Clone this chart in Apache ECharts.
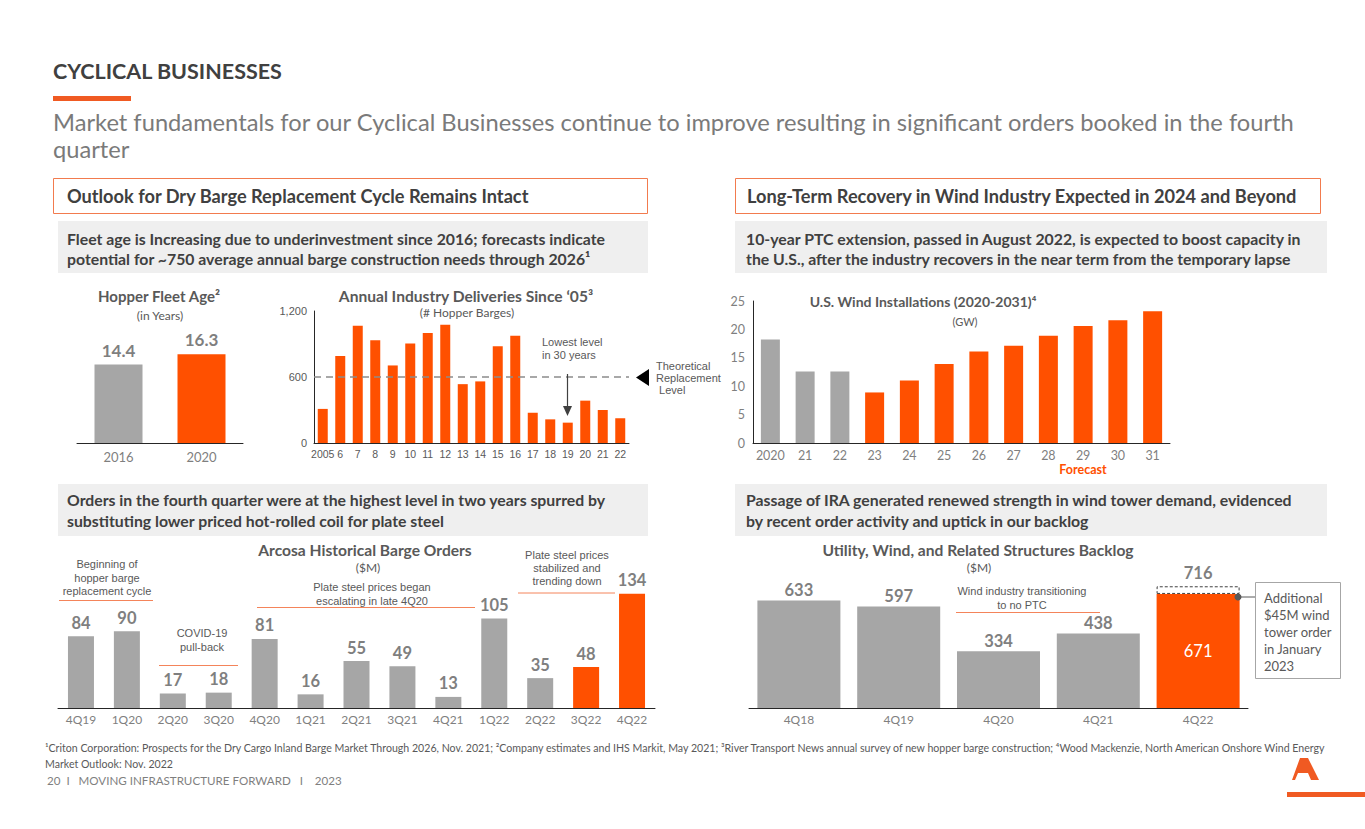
<!DOCTYPE html>
<html>
<head>
<meta charset="utf-8">
<script src="https://cdn.jsdelivr.net/npm/echarts@6/dist/echarts.min.js"></script>
<style>
html,body{margin:0;padding:0;background:#fff;}
#c{width:1365px;height:829px;}
</style>
</head>
<body>
<div id="c"></div>
<script>
// ---------- DATA ----------
const fleetYears = ['2016', '2020'];
const fleetAge = [14.4, 16.3];

const deliveryYears = ['2005', '6', '7', '8', '9', '10', '11', '12', '13', '14', '15', '16', '17', '18', '19', '20', '21', '22'];
const deliveries = [310, 790, 1065, 935, 705, 905, 1000, 1075, 535, 560, 880, 975, 275, 215, 185, 385, 300, 225];
const deliveryAxis = [0, 600, 1200];
const replacementLevel = 600;

const windYears = ['2020', '21', '22', '23', '24', '25', '26', '27', '28', '29', '30', '31'];
const windGW = [18.2, 12.6, 12.6, 8.9, 11.0, 13.9, 16.1, 17.1, 18.9, 20.6, 21.6, 23.2];
const windAxis = [0, 5, 10, 15, 20, 25];
const windFirstForecast = '23';

const orderQuarters = ['4Q19', '1Q20', '2Q20', '3Q20', '4Q20', '1Q21', '2Q21', '3Q21', '4Q21', '1Q22', '2Q22', '3Q22', '4Q22'];
const bargeOrders = [84, 90, 17, 18, 81, 16, 55, 49, 13, 105, 35, 48, 134];
const recentOrderQuarters = ['3Q22', '4Q22'];

const backlogQuarters = ['4Q18', '4Q19', '4Q20', '4Q21', '4Q22'];
const backlog = [633, 597, 334, 438, 671];
const januaryOrder = [0, 0, 0, 0, 45];

// ---------- STYLE ----------
const ORANGE = '#FF5000';
const GRAY = '#A6A6A6';
const DARK = '#404040';
const MID = '#7F7F7F';
const TXT = '#595959';
const CAL = 'Lato, "Open Sans", sans-serif';
const ARI = '"Liberation Sans", Arial, sans-serif';

function T(text, x, y, font, fill, align) {
  return {
    type: 'text', silent: true, z: 10,
    style: { text: text, x: x, y: y, font: font, fill: fill || DARK,
      align: align || 'left', verticalAlign: 'middle',
      textAlign: align || 'left', textVerticalAlign: 'middle' }
  };
}
function L(x1, y1, x2, y2, color, w, dash) {
  return { type: 'line', silent: true, z: 10,
    shape: { x1: x1, y1: y1, x2: x2, y2: y2 },
    style: { stroke: color, lineWidth: w || 1, lineDash: dash || null } };
}
function R(x, y, w, h, fill, stroke, lw) {
  return { type: 'rect', silent: true, z: 1,
    shape: { x: x, y: y, width: w, height: h },
    style: { fill: fill || 'none', stroke: stroke || null, lineWidth: lw || 1 } };
}

const HEAD = 'bold 18.2px ' + CAL;
const BOX = 'bold 15.8px ' + CAL;
const CT = 'bold 15.6px ' + CAL;

const graphics = [
  T('CYCLICAL BUSINESSES', 53, 71, 'bold 21.5px ' + CAL, DARK),
  R(53, 96, 78, 5, '#F05A22'),
  T('Market fundamentals for our Cyclical Businesses continue to improve resulting in significant orders booked in the fourth', 53, 122, '23.7px ' + CAL, '#7A7A7A'),
  T('quarter', 53, 149, '23.7px ' + CAL, '#7A7A7A'),

  R(53.5, 178.5, 594, 35, '#fff', '#F27B4E', 1),
  T('Outlook for Dry Barge Replacement Cycle Remains Intact', 67, 196, HEAD, DARK),
  R(735.5, 178.5, 585, 35, '#fff', '#F27B4E', 1),
  T('Long-Term Recovery in Wind Industry Expected in 2024 and Beyond', 747, 196, HEAD, DARK),

  R(58, 221, 590, 52, '#EFEFEF'),
  T('Fleet age is Increasing due to underinvestment since 2016; forecasts indicate', 67, 238, BOX, DARK),
  T('potential for ~750 average annual barge construction needs through 2026¹', 67, 258, BOX, DARK),
  R(735, 221, 592, 52, '#EFEFEF'),
  T('10-year PTC extension, passed in August 2022, is expected to boost capacity in', 746, 238, BOX, DARK),
  T('the U.S., after the industry recovers in the near term from the temporary lapse', 746, 258, BOX, DARK),

  R(58, 484, 590, 52, '#EFEFEF'),
  T('Orders in the fourth quarter were at the highest level in two years spurred by', 67, 499, BOX, DARK),
  T('substituting lower priced hot-rolled coil for plate steel', 67, 520, BOX, DARK),
  R(735, 484, 592, 52, '#EFEFEF'),
  T('Passage of IRA generated renewed strength in wind tower demand, evidenced', 746, 499, BOX, DARK),
  T('by recent order activity and uptick in our backlog', 746, 520, BOX, DARK),

  // Hopper fleet age
  T('Hopper Fleet Age²', 159, 296, 'bold 15px ' + CAL, TXT, 'center'),
  T('(in Years)', 160, 315, '12px ' + CAL, TXT, 'center'),

  // Annual deliveries
  T('Annual Industry Deliveries Since ‘05³', 466, 296, CT, TXT, 'center'),
  T('(# Hopper Barges)', 467, 312, '12px ' + CAL, TXT, 'center'),
  T('Lowest level', 542, 342, '11px ' + ARI, TXT),
  T('in 30 years', 542, 355, '11px ' + ARI, TXT),
  L(567.5, 374, 567.5, 408, DARK, 1.2),
  { type: 'polygon', silent: true, z: 10, shape: { points: [[563, 406], [572, 406], [567.5, 416]] }, style: { fill: DARK } },
  { type: 'polygon', silent: true, z: 10, shape: { points: [[649, 369], [649, 386], [636, 377.5]] }, style: { fill: '#000' } },
  T('Theoretical', 656, 366, '11px ' + ARI, TXT),
  T('Replacement', 656, 378, '11px ' + ARI, TXT),
  T(' Level', 656, 390, '11px ' + ARI, TXT),

  // Wind installs
  T('U.S. Wind Installations (2020-2031)⁴', 923, 301, 'bold 14px ' + CAL, TXT, 'center'),
  T('(GW)', 965, 321, '11px ' + CAL, TXT, 'center'),
  T('Forecast', 1083, 469, 'bold 12.5px ' + CAL, ORANGE, 'center'),

  // Barge orders
  T('Arcosa Historical Barge Orders', 365, 550, CT, TXT, 'center'),
  T('($M)', 368, 567, '12px ' + CAL, TXT, 'center'),
  T('Beginning of', 107, 564, '11px ' + ARI, TXT, 'center'),
  T('hopper barge', 107, 578, '11px ' + ARI, TXT, 'center'),
  T('replacement cycle', 107, 591, '11px ' + ARI, TXT, 'center'),
  L(59, 600.5, 153, 600.5, '#F4845A', 1),
  T('COVID-19', 202, 633, '11px ' + ARI, TXT, 'center'),
  T('pull-back', 202, 647, '11px ' + ARI, TXT, 'center'),
  L(159, 665.5, 238, 665.5, '#F4845A', 1),
  T('Plate steel prices began', 372, 587, '11px ' + ARI, TXT, 'center'),
  T('escalating in late 4Q20', 372, 601, '11px ' + ARI, TXT, 'center'),
  L(257, 607.5, 475, 607.5, '#F4845A', 1),
  T('Plate steel prices', 567, 555, '11px ' + ARI, TXT, 'center'),
  T('stabilized and', 567, 568, '11px ' + ARI, TXT, 'center'),
  T('trending down', 567, 581, '11px ' + ARI, TXT, 'center'),
  L(518, 593, 615, 593, '#F4845A', 1),

  // Backlog
  T('Utility, Wind, and Related Structures Backlog', 978, 550, CT, TXT, 'center'),
  T('($M)', 979, 567, '12px ' + CAL, TXT, 'center'),
  T('Wind industry transitioning', 1022, 591, '11px ' + ARI, TXT, 'center'),
  T('to no PTC', 1022, 605, '11px ' + ARI, TXT, 'center'),
  L(956, 612.5, 1100, 612.5, '#F4845A', 1),
  { type: 'circle', silent: true, z: 10, shape: { cx: 1238, cy: 597, r: 3.5 }, style: { fill: TXT } },
  L(1238, 597, 1255, 597, TXT, 1),
  R(1255.5, 582.5, 85, 96, '#fff', '#A6A6A6', 1),
  T('Additional', 1264, 598, '13px ' + CAL, TXT),
  T('$45M wind', 1264, 615, '13px ' + CAL, TXT),
  T('tower order', 1264, 632, '13px ' + CAL, TXT),
  T('in January', 1264, 649, '13px ' + CAL, TXT),
  T('2023', 1264, 666, '13px ' + CAL, TXT),

  // Footer
  T('¹Criton Corporation: Prospects for the Dry Cargo Inland Barge Market Through 2026, Nov. 2021; ²Company estimates and IHS Markit, May 2021; ³River Transport News annual survey of new hopper barge construction; ⁴Wood Mackenzie, North American Onshore Wind Energy', 45, 748, '10.6px ' + CAL, TXT),
  T('Market Outlook: Nov. 2022', 45, 764, '10.6px ' + CAL, TXT),
  T('20  I   MOVING INFRASTRUCTURE FORWARD   I    2023', 47, 780, '11.6px ' + CAL, MID),
  { type: 'polygon', silent: true, z: 10, shape: { points: [[1300, 758], [1308, 758], [1319, 780], [1311, 780], [1308, 773], [1298, 773], [1295, 780], [1292, 780]] }, style: { fill: '#F05A22' } },
  R(1287, 792, 78, 5, '#F05A22')
];

const valueLabel = { show: true, position: 'top', fontSize: 16.5, fontWeight: 'bold', color: MID, fontFamily: CAL };
const catLabel = { color: MID, fontSize: 12, fontFamily: CAL, margin: 5 };
const darkAxisLine = { show: true, lineStyle: { color: '#262626', width: 1 } };

const option = {
  animation: false,
  backgroundColor: '#fff',
  graphic: { elements: graphics },
  grid: [
    { left: 77, top: 334, width: 166, height: 109 },
    { left: 314, top: 311, width: 315, height: 132 },
    { left: 753, top: 301, width: 417, height: 142 },
    { left: 58, top: 580, width: 597, height: 128 },
    { left: 749, top: 572, width: 499, height: 136 }
  ],
  xAxis: [
    { gridIndex: 0, type: 'category', data: fleetYears, axisTick: { show: false }, axisLine: darkAxisLine, axisLabel: Object.assign({}, catLabel, { fontSize: 13, margin: 7 }) },
    { gridIndex: 1, type: 'category', data: deliveryYears, axisTick: { show: false }, axisLine: darkAxisLine, axisLabel: { color: TXT, fontSize: 10.5, fontFamily: ARI, margin: 5, interval: 0 } },
    { gridIndex: 2, type: 'category', data: windYears, axisTick: { show: false }, axisLine: darkAxisLine, axisLabel: Object.assign({}, catLabel, { fontSize: 12.5, margin: 6, interval: 0 }) },
    { gridIndex: 3, type: 'category', data: orderQuarters, axisTick: { show: false }, axisLine: darkAxisLine, axisLabel: Object.assign({}, catLabel, { interval: 0 }) },
    { gridIndex: 4, type: 'category', data: backlogQuarters, axisTick: { show: false }, axisLine: darkAxisLine, axisLabel: Object.assign({}, catLabel, { interval: 0 }) }
  ],
  yAxis: [
    { gridIndex: 0, type: 'value', min: 0, max: 20, show: false },
    { gridIndex: 1, type: 'value', min: deliveryAxis[0], max: deliveryAxis[2], interval: deliveryAxis[1] - deliveryAxis[0],
      axisLine: darkAxisLine, axisTick: { show: false }, splitLine: { show: false },
      axisLabel: { color: TXT, fontSize: 11, fontFamily: ARI, margin: 7, formatter: v => v.toLocaleString('en-US') } },
    { gridIndex: 2, type: 'value', min: windAxis[0], max: windAxis[windAxis.length - 1], interval: windAxis[1] - windAxis[0],
      axisLine: darkAxisLine, axisTick: { show: false }, splitLine: { show: false },
      axisLabel: { color: MID, fontSize: 12.5, fontFamily: CAL, margin: 8 } },
    { gridIndex: 3, type: 'value', min: 0, max: 150, show: false },
    { gridIndex: 4, type: 'value', min: 0, max: 800, show: false }
  ],
  series: [
    { type: 'bar', xAxisIndex: 0, yAxisIndex: 0, data: fleetAge, barWidth: 48,
      itemStyle: { color: p => p.dataIndex === fleetAge.length - 1 ? ORANGE : GRAY },
      label: Object.assign({}, valueLabel, { distance: 6, fontSize: 17 }) },
    { type: 'bar', xAxisIndex: 1, yAxisIndex: 1, data: deliveries, barWidth: 10,
      itemStyle: { color: ORANGE },
      markLine: { silent: true, symbol: 'none', label: { show: false },
        lineStyle: { color: '#8C8C8C', type: [7, 5], width: 1.5 },
        data: [{ yAxis: replacementLevel }] } },
    { type: 'bar', xAxisIndex: 2, yAxisIndex: 2, data: windGW, barWidth: 19,
      itemStyle: { color: p => windYears.indexOf(p.name) >= windYears.indexOf(windFirstForecast) ? ORANGE : GRAY } },
    { type: 'bar', xAxisIndex: 3, yAxisIndex: 3, data: bargeOrders, barWidth: 26,
      itemStyle: { color: p => recentOrderQuarters.indexOf(p.name) >= 0 ? ORANGE : GRAY },
      label: Object.assign({}, valueLabel, { distance: 5 }) },
    { type: 'bar', xAxisIndex: 4, yAxisIndex: 4, stack: 'b', barWidth: 83,
      data: backlog.map((v, i) => i === backlog.length - 1
        ? { value: v, itemStyle: { color: ORANGE }, label: { show: true, position: 'inside', color: '#fff', fontSize: 16.5, fontWeight: 'normal', fontFamily: CAL } }
        : { value: v }),
      itemStyle: { color: GRAY },
      label: Object.assign({}, valueLabel, { distance: 2 }) },
    { type: 'bar', xAxisIndex: 4, yAxisIndex: 4, stack: 'b', barWidth: 83,
      data: januaryOrder.map(v => v > 0 ? v : null),
      itemStyle: { color: '#fff', borderColor: DARK, borderWidth: 1, borderType: [3, 2] },
      label: Object.assign({}, valueLabel, { distance: 5, formatter: p => String(backlog[p.dataIndex] + januaryOrder[p.dataIndex]) }) }
  ]
};

const chart = echarts.init(document.getElementById('c'), null, { renderer: 'svg', width: 1365, height: 829 });
chart.setOption(option);
</script>
</body>
</html>
